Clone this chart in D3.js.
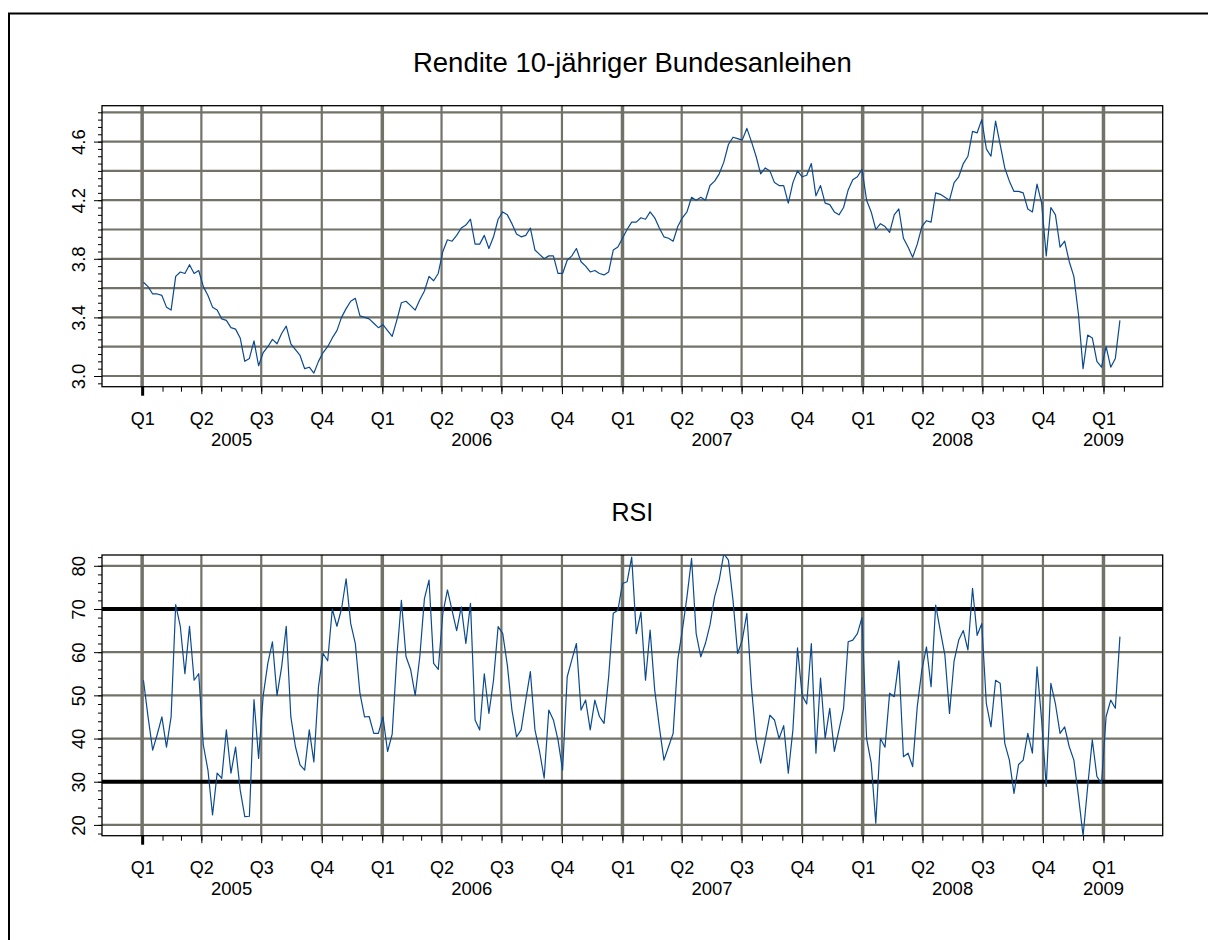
<!DOCTYPE html>
<html>
<head>
<meta charset="utf-8">
<script src="https://cdn.jsdelivr.net/npm/d3@7"></script>
<style>
  html, body { margin: 0; padding: 0; background: #fff; overflow: hidden; }
  svg { display: block; overflow: hidden; font-family: "Liberation Sans", Arial, sans-serif; }
</style>
</head>
<body>
<div id="chart"></div>
<script>
// weekly observations, the first one on Monday 3 Jan 2005
const firstWeek = "2005-01-03";

// yield of 10-year Bunds in percent, one value per week
const yieldValues = [
  3.64, 3.61, 3.56, 3.56, 3.55, 3.47, 3.45, 3.68, 3.71, 3.70,
  3.76, 3.70, 3.72, 3.61, 3.55, 3.47, 3.45, 3.39, 3.38, 3.33,
  3.32, 3.26, 3.10, 3.12, 3.24, 3.07, 3.16, 3.20, 3.25, 3.22,
  3.29, 3.34, 3.22, 3.18, 3.14, 3.05, 3.06, 3.02, 3.10, 3.16,
  3.20, 3.26, 3.31, 3.40, 3.46, 3.51, 3.53, 3.41, 3.40, 3.39,
  3.36, 3.33, 3.35, 3.31, 3.27, 3.38, 3.50, 3.51, 3.48, 3.45,
  3.52, 3.58, 3.68, 3.65, 3.70, 3.85, 3.93, 3.92, 3.96, 4.01,
  4.03, 4.07, 3.90, 3.90, 3.96, 3.87, 3.95, 4.07, 4.12, 4.10,
  4.04, 3.97, 3.95, 3.96, 4.01, 3.86, 3.83, 3.80, 3.82, 3.82,
  3.70, 3.70, 3.79, 3.82, 3.87, 3.78, 3.75, 3.71, 3.72, 3.70,
  3.69, 3.71, 3.86, 3.88, 3.94, 4.00, 4.05, 4.05, 4.08, 4.07,
  4.12, 4.08, 4.01, 3.95, 3.94, 3.92, 4.02, 4.08, 4.12, 4.22,
  4.20, 4.22, 4.20, 4.30, 4.33, 4.38, 4.46, 4.58, 4.63, 4.62,
  4.61, 4.69, 4.60, 4.50, 4.38, 4.42, 4.40, 4.32, 4.30, 4.30,
  4.18, 4.32, 4.40, 4.36, 4.37, 4.45, 4.23, 4.30, 4.18, 4.17,
  4.12, 4.10, 4.15, 4.27, 4.34, 4.36, 4.41, 4.20, 4.12, 4.00,
  4.04, 4.02, 3.98, 4.10, 4.14, 3.94, 3.88, 3.81, 3.90, 4.02,
  4.06, 4.05, 4.25, 4.24, 4.22, 4.20, 4.32, 4.36, 4.45, 4.50,
  4.67, 4.66, 4.75, 4.55, 4.50, 4.74, 4.58, 4.42, 4.33, 4.26,
  4.26, 4.25, 4.14, 4.12, 4.31, 4.18, 3.82, 4.15, 4.10, 3.88,
  3.92, 3.78, 3.68, 3.42, 3.05, 3.28, 3.26, 3.10, 3.06, 3.20,
  3.06, 3.12, 3.38
];

// relative strength index of the same weeks
const rsiValues = [
  53.5, 45, 37.3, 41, 45, 38, 45, 71, 66, 55,
  66, 53.5, 55, 38.5, 32.7, 22.3, 32, 30.8, 42, 32,
  38, 28.1, 21.9, 22, 49, 35.4, 50, 57.4, 62.4, 50,
  56.6, 66, 45, 38.1, 33.9, 32.7, 42, 34.6, 52, 59.7,
  58, 70, 66, 70, 77, 66.6, 62, 50.5, 45, 45.1,
  41.2, 41.2, 45, 37, 41, 58.9, 72, 59, 56, 50,
  59, 72.4, 76.7, 57.4, 56, 69, 74.4, 69.7, 65, 70.5,
  62, 71.3, 44.3, 42, 55, 45.8, 53.5, 65.9, 64.3, 57,
  46.6, 40.4, 42, 48.9, 55.5, 42, 37, 30.8, 46.6, 44.3,
  39.7, 32.7, 54.3, 58.2, 62, 46.6, 48.9, 42, 48.9, 45.1,
  43.5, 54.3, 69, 69.7, 75.9, 76.3, 82, 64.3, 69.3, 53.5,
  65.1, 51.2, 42.7, 35, 38.1, 41.2, 58.2, 65.1, 72.8, 81.7,
  64.3, 58.9, 62, 66.3, 72.8, 76.7, 82.8, 81.3, 72, 59.7,
  62.8, 69, 52, 39.7, 34.3, 39.7, 45.4, 44.3, 40, 43,
  32, 42, 61, 50, 48, 62, 36.6, 54, 40, 47,
  37, 42, 47, 62.4, 62.8, 64.3, 68, 40, 34.3, 20.4,
  40, 38, 50.5, 49.7, 58, 35.8, 36.6, 33.5, 47.4, 55.9,
  61.2, 52, 70.9, 65, 59.3, 45.8, 58, 62.8, 65, 60.5,
  74.8, 63.9, 66.6, 48.1, 42.7, 53.5, 52.8, 38.9, 35, 27.3,
  34, 35, 41.2, 36.6, 56.6, 44.3, 28.9, 52.8, 48, 41.2,
  42.7, 38.1, 35, 26.6, 17.5, 28.9, 39.7, 31.2, 29.6, 45.1,
  48.9, 47, 63.6
];

const quarterLabels = ["Q1", "Q2", "Q3", "Q4"];
const yearLabels = ["2005", "2006", "2007", "2008", "2009"];
const yieldTicks = [3.0, 3.4, 3.8, 4.2, 4.6];
const rsiTicks = [20, 30, 40, 50, 60, 70, 80];
const rsiBands = [30, 70];
const titles = ["Rendite 10-jähriger Bundesanleihen", "RSI"];

// appearance
const settings = {
  width: 1208,
  height: 940,
  left: 102,
  right: 1162.7,
  gridColor: "#737269",
  lineColor: "#0b4a8f",
  tickFont: 18.5,
  quarterFont: 18,
  yearFont: 18.5,
};

const parseDate = d3.timeParse("%Y-%m-%d");
const start = parseDate(firstWeek);
const dates = yieldValues.map((_, i) => d3.timeDay.offset(start, 7 * i));

const x = d3
  .scaleTime()
  .domain([new Date(2004, 10, 1), new Date(2009, 3, 1)])
  .range([settings.left, settings.right]);

const months = d3.timeMonth.range(new Date(2005, 0, 1), new Date(2009, 1, 2));
const quarters = d3.timeMonth.every(3).range(new Date(2005, 0, 1), new Date(2009, 0, 2));

const svg = d3
  .select("#chart")
  .append("svg")
  .attr("width", settings.width)
  .attr("height", settings.height);

svg.append("rect").attr("width", settings.width).attr("height", settings.height).attr("fill", "#fff");

// outer frame: only its top and left edges fall on the page
svg
  .append("path")
  .attr("d", `M9,${settings.height}V13.5H${settings.width}`)
  .attr("fill", "none")
  .attr("stroke", "#000")
  .attr("stroke-width", 2);

function drawPanel(p) {
  const y = d3.scaleLinear().domain(p.domain).range([p.bottom, p.top]);
  const g = svg.append("g");

  svg
    .append("clipPath")
    .attr("id", "clip-" + p.id)
    .append("rect")
    .attr("x", settings.left)
    .attr("y", p.top)
    .attr("width", settings.right - settings.left)
    .attr("height", p.bottom - p.top);

  // horizontal grid
  g.selectAll(".hgrid")
    .data(p.grid)
    .join("line")
    .attr("class", "hgrid")
    .attr("x1", settings.left)
    .attr("x2", settings.right)
    .attr("y1", (d) => y(d))
    .attr("y2", (d) => y(d))
    .attr("stroke", settings.gridColor)
    .attr("stroke-width", 2.2);

  // vertical grid on quarters, thicker at the start of a year
  g.selectAll(".vgrid")
    .data(quarters)
    .join("line")
    .attr("class", "vgrid")
    .attr("x1", (d) => x(d))
    .attr("x2", (d) => x(d))
    .attr("y1", p.top)
    .attr("y2", p.bottom)
    .attr("stroke", settings.gridColor)
    .attr("stroke-width", (d) => (d.getMonth() === 0 ? 3.5 : 2.2));

  // plot frame
  g.append("rect")
    .attr("x", settings.left)
    .attr("y", p.top)
    .attr("width", settings.right - settings.left)
    .attr("height", p.bottom - p.top)
    .attr("fill", "none")
    .attr("stroke", "#000")
    .attr("stroke-width", 1.3);

  // overbought / oversold lines
  g.selectAll(".band")
    .data(p.bands || [])
    .join("line")
    .attr("class", "band")
    .attr("x1", settings.left)
    .attr("x2", settings.right)
    .attr("y1", (d) => y(d))
    .attr("y2", (d) => y(d))
    .attr("stroke", "#000")
    .attr("stroke-width", 4);

  const line = d3
    .line()
    .x((d, i) => x(dates[i]))
    .y((d) => y(d));

  g.append("path")
    .datum(p.values)
    .attr("clip-path", `url(#clip-${p.id})`)
    .attr("d", line)
    .attr("fill", "none")
    .attr("stroke", settings.lineColor)
    .attr("stroke-width", 1.2)
    .attr("stroke-linejoin", "round");

  // y axis: small ticks, then labelled ticks
  const yMinor = svg
    .append("g")
    .attr("transform", `translate(${settings.left},0)`)
    .call(d3.axisLeft(y).tickValues(p.minor).tickSize(4).tickFormat(""));
  yMinor.select(".domain").remove();

  const yMajor = svg
    .append("g")
    .attr("transform", `translate(${settings.left},0)`)
    .call(d3.axisLeft(y).tickValues(p.labels).tickSize(8).tickFormat(p.format));
  yMajor.select(".domain").remove();
  yMajor
    .selectAll("text")
    .attr("x", 0)
    .attr("dy", null)
    .attr("transform", "translate(-17,0) rotate(-90)")
    .attr("text-anchor", "middle")
    .attr("font-size", settings.tickFont)
    .attr("font-family", "Liberation Sans, Arial, sans-serif")
    .attr("fill", "#000");

  // x axis: month ticks, quarter ticks with labels
  const xMinor = svg
    .append("g")
    .attr("transform", `translate(0,${p.bottom})`)
    .call(d3.axisBottom(x).tickValues(months).tickSize(5).tickFormat(""));
  xMinor.select(".domain").remove();

  const xMajor = svg
    .append("g")
    .attr("transform", `translate(0,${p.bottom})`)
    .call(
      d3
        .axisBottom(x)
        .tickValues(quarters)
        .tickSize(7.5)
        .tickFormat((d) => quarterLabels[d.getMonth() / 3])
    );
  xMajor.select(".domain").remove();
  xMajor
    .selectAll(".tick line")
    .filter((d, i) => i === 0)
    .attr("stroke-width", 3)
    .attr("y2", 9);
  xMajor
    .selectAll("text")
    .attr("y", 38)
    .attr("dy", null)
    .attr("font-size", settings.quarterFont)
    .attr("font-family", "Liberation Sans, Arial, sans-serif")
    .attr("fill", "#000");

  // year labels centred under their quarters
  const yearPos = d3.rollup(quarters, (v) => d3.mean(v, (d) => x(d)), (d) => d.getFullYear());
  svg
    .append("g")
    .selectAll("text")
    .data(yearLabels)
    .join("text")
    .attr("x", (d) => yearPos.get(+d))
    .attr("y", p.bottom + 59)
    .attr("text-anchor", "middle")
    .attr("font-size", settings.yearFont)
    .text((d) => d);

  svg
    .append("text")
    .attr("x", (settings.left + settings.right) / 2)
    .attr("y", p.titleY)
    .attr("text-anchor", "middle")
    .attr("font-size", p.titleFont)
    .text(p.title);
}

drawPanel({
  id: "yield",
  values: yieldValues,
  domain: [2.927, 4.845],
  top: 105.7,
  bottom: 386.7,
  grid: d3.range(15, 25).map((d) => d / 5),
  minor: d3.range(59, 97).map((d) => d / 20),
  labels: yieldTicks,
  format: d3.format(".1f"),
  title: titles[0],
  titleY: 71.5,
  titleFont: 27.5,
});

drawPanel({
  id: "rsi",
  values: rsiValues,
  domain: [17.5, 82.5],
  top: 555,
  bottom: 835.7,
  grid: rsiTicks,
  minor: d3.range(18, 83, 2),
  labels: rsiTicks,
  format: d3.format("d"),
  bands: rsiBands,
  title: titles[1],
  titleY: 521,
  titleFont: 25,
});
</script>
</body>
</html>
